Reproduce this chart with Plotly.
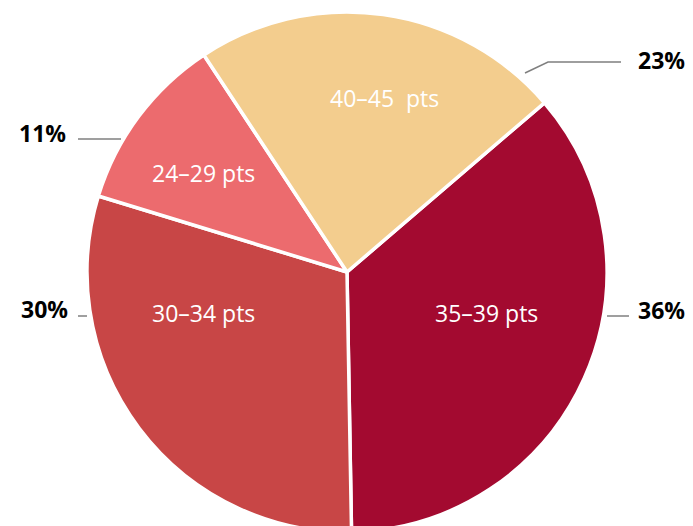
import plotly.graph_objects as go

labels = ["35–39 pts", "30–34 pts", "24–29 pts", "40–45  pts"]
values = [36, 30, 11, 23]
pct_labels = ["36%", "30%", "11%", "23%"]
colors = ["#A30A30", "#C84646", "#EC6B6E", "#F3CD8E"]

W, H = 693, 526
OFF = 8  # page body margin offset

def px(x):
    return (x - OFF) / W

def py(y):
    return 1 - (y - OFF) / H

# pie geometry (viewport pixels)
CX, CY, R = 347, 272, 260

fig = go.Figure()
fig.add_trace(go.Pie(
    labels=labels,
    values=values,
    sort=False,
    direction="clockwise",
    rotation=49.4,
    marker=dict(colors=colors, line=dict(color="white", width=3.5)),
    textinfo="none",
    domain=dict(x=[px(CX - R), px(CX + R)], y=[py(CY + R), py(CY - R)]),
    showlegend=False,
    hoverinfo="label+percent",
))

# slice labels
label_pos = [(486, 313), (203, 313), (203, 173), (384, 98)]
for txt, (x, y) in zip(labels, label_pos):
    fig.add_annotation(x=px(x), y=py(y), xref="paper", yref="paper",
                       text=txt.replace("  ", "&nbsp; "), showarrow=False,
                       font=dict(family="Open Sans", size=23, color="white"),
                       xanchor="center", yanchor="middle")

# percentage labels with leader lines
pct_pos = [(636, 310), (19, 309), (17, 133), (636, 60)]
leaders = [
    [(607, 316), (629, 316)],
    [(78, 316), (87, 316)],
    [(78, 139), (121, 139)],
    [(525, 73), (548, 62), (621, 62)],
]
for txt, (x, y) in zip(pct_labels, pct_pos):
    fig.add_annotation(x=px(x), y=py(y), xref="paper", yref="paper",
                       text=f"<b>{txt}</b>", showarrow=False,
                       font=dict(family="Open Sans", size=23, color="black"),
                       xanchor="left", yanchor="middle")
for pts in leaders:
    path = "M " + " L ".join(f"{px(a)},{py(b)}" for a, b in pts)
    fig.add_shape(type="path", path=path, xref="paper", yref="paper",
                  line=dict(color="#7f7f7f", width=1.5))

fig.update_layout(
    width=W, height=H,
    margin=dict(l=0, r=0, t=0, b=0),
    paper_bgcolor="white",
    plot_bgcolor="white",
)
fig.write_html("out.html")
